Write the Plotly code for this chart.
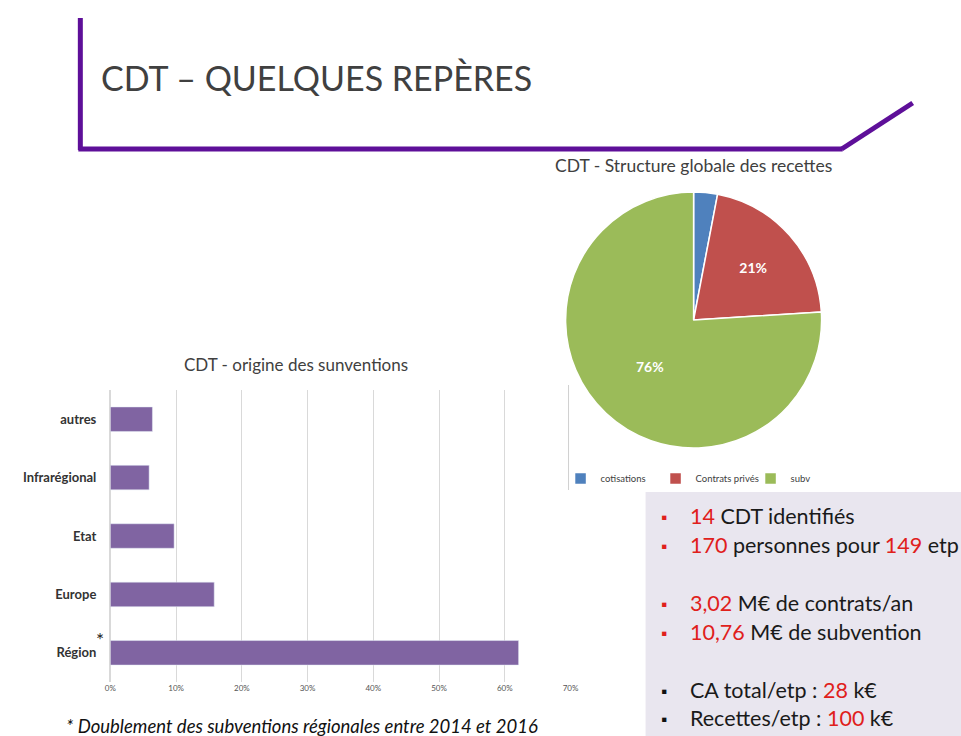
import plotly.graph_objects as go

W, H = 961, 736

# ---- data ----
bar_categories = ["Région", "Europe", "Etat", "Infrarégional", "autres"]
bar_values = [0.621, 0.158, 0.097, 0.059, 0.064]
x_ticks = [0, 0.1, 0.2, 0.3, 0.4, 0.5, 0.6, 0.7]

pie_labels = ["cotisations", "Contrats privés", "subv"]
pie_values = [3, 21, 76]
pie_text = ["", "21%", "76%"]
pie_colors = ["#4F81BD", "#C0504D", "#9BBB59"]

bullets = [
    ("14", " CDT identifiés", "", "", "#E0201B"),
    ("170", " personnes pour ", "149", " etp", "#E0201B"),
    ("3,02", " M€ de contrats/an", "", "", "#E0201B"),
    ("10,76", " M€ de subvention", "", "", "#E0201B"),
    ("", "CA total/etp : ", "28", " k€", "#111111"),
    ("", "Recettes/etp : ", "100", " k€", "#111111"),
]
bullet_y = [516, 545, 603, 632, 690, 718]

FONT = "Lato, 'Open Sans', sans-serif"
RED = "#E0201B"

# horizontal compensation for the capture (observed ~0.985 scale, ~5.7px offset)
SX, OX = 0.985, 5.7


def px(x):
    return ((x - OX) / SX) / W


def py(y):
    return 1 - y / H


fig = go.Figure()

fig.add_trace(go.Bar(
    x=bar_values, y=bar_categories, orientation="h",
    marker=dict(color="#8064A2"), width=0.42, showlegend=False,
    xaxis="x", yaxis="y", hoverinfo="x+y",
))

fig.add_trace(go.Pie(
    labels=pie_labels, values=pie_values, text=pie_text, textinfo="text",
    sort=False, direction="clockwise", rotation=0,
    marker=dict(colors=pie_colors, line=dict(color="white", width=1.5)),
    textfont=dict(color="white", size=14, family=FONT, weight="bold"),
    textposition="inside", insidetextorientation="horizontal",
    domain=dict(x=[px(565), px(821)], y=[py(448), py(192)]),
    showlegend=True,
))

shapes = [
    # text box background
    dict(type="rect", xref="paper", yref="paper", x0=px(645), x1=1.05,
         y0=py(745), y1=py(492), fillcolor="#E9E6EF", line=dict(width=0), layer="below"),
    # purple header frame
    dict(type="line", xref="paper", yref="paper", x0=px(80), x1=px(80),
         y0=py(18), y1=py(150), line=dict(color="#5E0F99", width=5)),
    dict(type="line", xref="paper", yref="paper", x0=px(78), x1=px(842),
         y0=py(149), y1=py(149), line=dict(color="#5E0F99", width=5)),
    dict(type="line", xref="paper", yref="paper", x0=px(841), x1=px(912),
         y0=py(149), y1=py(103), line=dict(color="#5E0F99", width=5)),
    # thin gray line left of pie legend
    dict(type="line", xref="paper", yref="paper", x0=px(568), x1=px(568),
         y0=py(385), y1=py(490), line=dict(color="#D0D0D0", width=1)),
]

annotations = [
    dict(text="CDT – QUELQUES REPÈRES", x=px(99), y=py(78), xref="paper", yref="paper",
         xanchor="left", yanchor="middle", showarrow=False,
         font=dict(size=34, color="#404040", family=FONT)),
    dict(text="CDT - Structure globale des recettes", x=px(693), y=py(165),
         xref="paper", yref="paper", xanchor="center", yanchor="middle", showarrow=False,
         font=dict(size=17.5, color="#404040", family=FONT)),
    dict(text="CDT - origine des sunventions", x=px(296), y=py(364),
         xref="paper", yref="paper", xanchor="center", yanchor="middle", showarrow=False,
         font=dict(size=17, color="#404040", family=FONT)),
    dict(text="*", x=px(100), y=py(639), xref="paper", yref="paper",
         xanchor="center", yanchor="middle", showarrow=False,
         font=dict(size=19, color="#222222", family=FONT)),
    dict(text="<i>* Doublement des subventions régionales entre 2014 et 2016</i>",
         x=px(64), y=py(726), xref="paper", yref="paper", xanchor="left",
         yanchor="middle", showarrow=False,
         font=dict(size=18.5, color="#111111", family=FONT)),
]

for (a, b, c, d, bcol), yy in zip(bullets, bullet_y):
    annotations.append(dict(text="▪", x=px(663), y=py(yy), xref="paper", yref="paper",
                            xanchor="center", yanchor="middle", showarrow=False,
                            font=dict(size=16, color=bcol, family=FONT)))
    parts = ""
    if a:
        parts += f"<span style='color:{RED}'>{a}</span>"
    parts += f"<span style='color:#1a1a1a'>{b}</span>"
    if c:
        parts += f"<span style='color:{RED}'>{c}</span>"
    if d:
        parts += f"<span style='color:#1a1a1a'>{d}</span>"
    annotations.append(dict(text=parts, x=px(687), y=py(yy), xref="paper", yref="paper",
                            xanchor="left", yanchor="middle", showarrow=False,
                            font=dict(size=21.5, family=FONT)))

fig.update_layout(
    width=W, height=H, autosize=False, margin=dict(l=0, r=0, t=0, b=0),
    paper_bgcolor="white", plot_bgcolor="white",
    font=dict(family=FONT),
    xaxis=dict(domain=[px(110), px(570)], range=[0, 0.7], tickvals=x_ticks,
               tickformat=".0%", showgrid=True, gridcolor="#D9D9D9", gridwidth=1,
               zeroline=True, zerolinecolor="#D9D9D9", showline=False,
               tickfont=dict(size=8, color="#555555"), anchor="y", ticks=""),
    yaxis=dict(domain=[py(682), py(390)], categoryorder="array",
               categoryarray=bar_categories, showgrid=False, zeroline=False,
               tickfont=dict(size=13, color="#333333", weight="bold"),
               anchor="x", ticks="", ticklabelstandoff=13),
    legend=dict(orientation="h", x=px(560), y=py(464), xanchor="left", yanchor="top",
                font=dict(size=9.5, color="#404040"), entrywidth=50,
                bgcolor="rgba(0,0,0,0)"),
    shapes=shapes, annotations=annotations,
)

post = (
    "document.documentElement.style.margin='0';"
    "document.body.style.margin='0';document.body.style.padding='0';"
    "document.body.style.overflow='hidden';"
)

fig.write_html(
    "out.html",
    config=dict(displayModeBar=False),
    post_script=post,
)
